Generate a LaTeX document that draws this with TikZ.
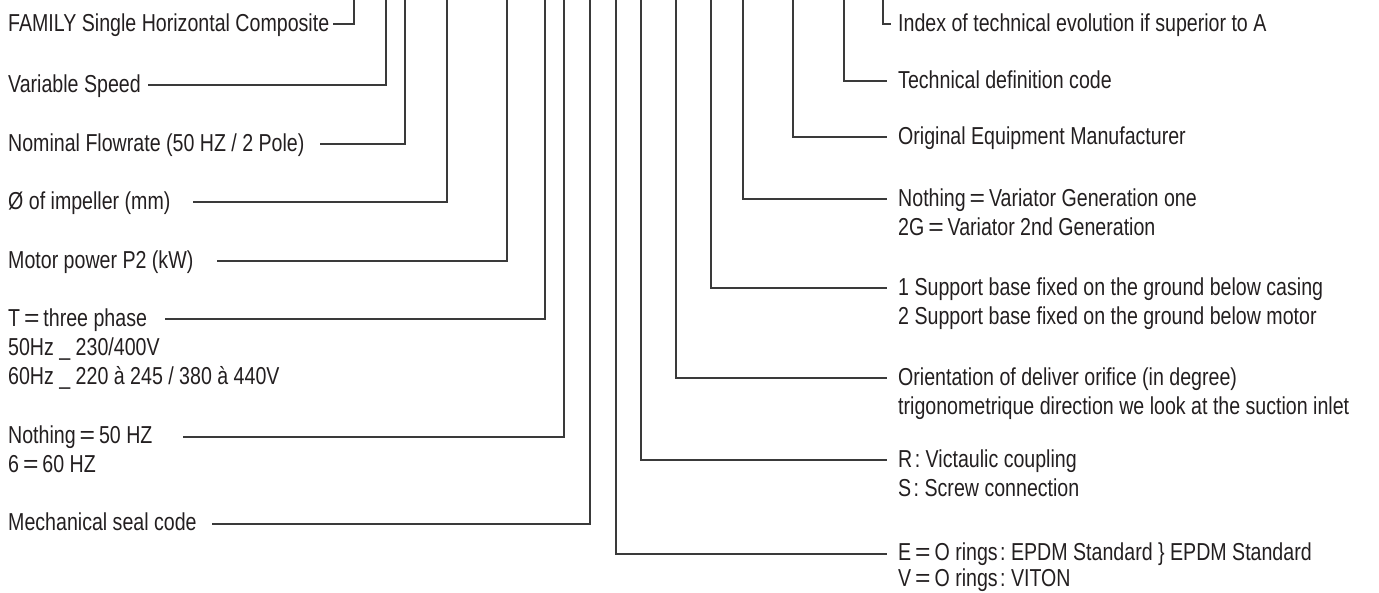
\documentclass[tikz,border=0pt]{standalone}
\usepackage{fontspec}
\setmainfont{Liberation Sans}[FakeStretch=0.8]
\definecolor{ink}{HTML}{231F20}
\definecolor{wirecol}{HTML}{3A3A3A}
\newcommand\myeq{\hspace{0.16em}\scalebox{1.35}[1]{=}\hspace{0.16em}}
\newcommand\mycol{\hspace{0.1em}:\ }
\begin{document}
\begin{tikzpicture}[x=1pt,y=-1pt,
  lbl/.style={anchor=base west,inner sep=0pt,text=ink,font=\fontsize{24.5}{29}\selectfont},
  conn/.style={draw=wirecol,line width=1.4pt}]
\useasboundingbox (0,0) rectangle (1379,592);
% ---------- left side ----------
\node[lbl] (l1) at (8,31) {FAMILY Single Horizontal Composite};
\node[lbl] (l2) at (8,92) {Variable Speed};
\node[lbl] (l3) at (8,151) {Nominal Flowrate (50 HZ / 2 Pole)};
\node[lbl] (l4) at (8,209) {Ø of impeller (mm)};
\node[lbl] (l5) at (8,268) {Motor power P2 (kW)};
\node[lbl] (l6a) at (8,326) {T\myeq three phase};
\node[lbl] (l6b) at (8,355) {50Hz \_ 230/400V};
\node[lbl] (l6c) at (8,384) {60Hz \_ 220 à 245 / 380 à 440V};
\node[lbl] (l7a) at (8,443) {Nothing\myeq 50 HZ};
\node[lbl] (l7b) at (8,472) {6\myeq 60 HZ};
\node[lbl] (l8) at (8,530) {Mechanical seal code};

\coordinate (s1) at (333,24);  \coordinate (v1) at (354,0);
\coordinate (s2) at (148,85);  \coordinate (v2) at (386,0);
\coordinate (s3) at (320,144); \coordinate (v3) at (405,0);
\coordinate (s4) at (193,202); \coordinate (v4) at (447,0);
\coordinate (s5) at (217,261); \coordinate (v5) at (507,0);
\coordinate (s6) at (165,319); \coordinate (v6) at (545,0);
\coordinate (s7) at (183,437); \coordinate (v7) at (564,0);
\coordinate (s8) at (212,524); \coordinate (v8) at (590,0);
\foreach \i in {1,...,8} { \draw[conn] (s\i) -| (v\i); }

% ---------- right side ----------
\node[lbl] (r9a) at (898,560) {E\myeq O rings\mycol EPDM Standard \} EPDM Standard};
\node[lbl] (r9b) at (898,586) {V\myeq O rings\mycol VITON};
\node[lbl] (r10a) at (898,467) {R\mycol Victaulic coupling};
\node[lbl] (r10b) at (898,496) {S\mycol Screw connection};
\node[lbl] (r11a) at (898,385) {Orientation of deliver orifice (in degree)};
\node[lbl] (r11b) at (898,414) {trigonometrique direction we look at the suction inlet};
\node[lbl] (r12a) at (898,295) {1 Support base fixed on the ground below casing};
\node[lbl] (r12b) at (898,324) {2 Support base fixed on the ground below motor};
\node[lbl] (r13a) at (898,206) {Nothing\myeq Variator Generation one};
\node[lbl] (r13b) at (898,235) {2G\myeq Variator 2nd Generation};
\node[lbl] (r14) at (898,144) {Original Equipment Manufacturer};
\node[lbl] (r15) at (898,88) {Technical definition code};
\node[lbl] (r16) at (898,31) {Index of technical evolution if superior to A};

\coordinate (u9) at (616,0);  \coordinate (e9) at (887,554);
\coordinate (u10) at (641,0); \coordinate (e10) at (887,460);
\coordinate (u11) at (676,0); \coordinate (e11) at (887,378);
\coordinate (u12) at (711,0); \coordinate (e12) at (887,288);
\coordinate (u13) at (743,0); \coordinate (e13) at (887,199);
\coordinate (u14) at (793,0); \coordinate (e14) at (887,137);
\coordinate (u15) at (844,0); \coordinate (e15) at (887,81);
\coordinate (u16) at (883,0); \coordinate (e16) at (891,24);
\foreach \i in {9,...,16} { \draw[conn] (u\i) |- (e\i); }
\end{tikzpicture}
\end{document}
